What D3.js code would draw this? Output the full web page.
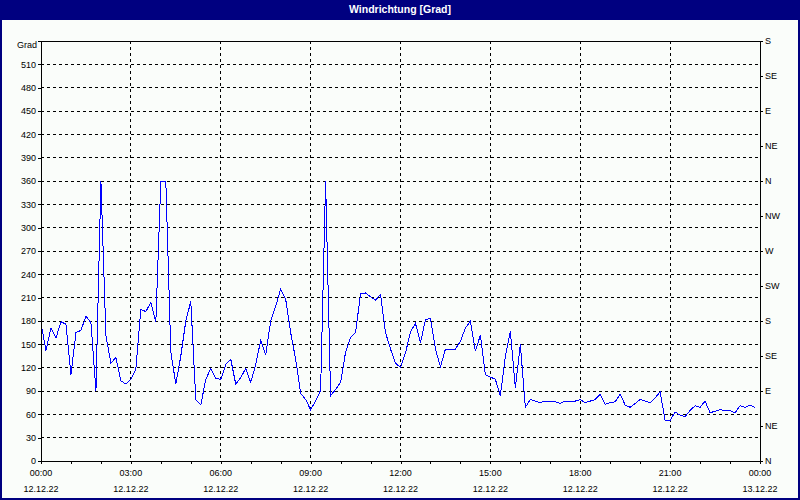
<!DOCTYPE html>
<html>
<head>
<meta charset="utf-8">
<script src="https://cdn.jsdelivr.net/npm/d3@7"></script>
<style>
  body { margin: 0; background: #fff; }
  svg { display: block; }
  text { font-family: "Liberation Sans", Arial, sans-serif; font-size: 9px; fill: #000; }
</style>
</head>
<body>
<script>
// Windrichtung chart - values every 10 minutes starting 12.12.22 00:00

var width = 800;
var height = 500;

var startTime = new Date(2022, 11, 12, 0, 0);
var endTime = new Date(2022, 11, 13, 0, 0);
var stepMinutes = 10;

// wind direction in degrees, one value per 10 min
var windDir = [
  177, 142, 171, 158, 179, 176, 111, 165, 168, 186,
  178, 90, 360, 161, 126, 133, 103, 99, 105, 118,
  195, 192, 204, 179, 360, 360, 140, 99, 135, 180,
  205, 79, 72, 105, 119, 106, 105, 124, 131, 99,
  107, 119, 101, 124, 155, 136, 180, 199, 221, 208,
  165, 131, 87, 79, 66, 77, 91, 360, 84, 92,
  101, 140, 159, 165, 215, 216, 211, 207, 214, 165,
  144, 126, 120, 139, 166, 177, 152, 182, 183, 144,
  121, 144, 144, 144, 154, 171, 180, 141, 162, 111,
  108, 105, 84, 135, 167, 94, 150, 69, 79, 77,
  75, 77, 77, 76, 74, 77, 77, 77, 79, 75,
  77, 79, 86, 73, 75, 76, 86, 72, 69, 74,
  79, 77, 75, 81, 89, 52, 52, 63, 59, 57,
  65, 71, 69, 77, 62, 64, 66, 65, 65, 62,
  71, 69, 72, 69
];

var leftTicks = d3.range(0, 511, 30);
var compassTicks = [0, 45, 90, 135, 180, 225, 270, 315, 360, 405, 450, 495, 540];
var compassLabels = ['N', 'NE', 'E', 'SE', 'S', 'SW', 'W', 'NW', 'N', 'NE', 'E', 'SE', 'S'];

var data = windDir.map(function(v, i) {
  return { t: new Date(startTime.getTime() + i * stepMinutes * 60000), v: v };
});

var plot = { left: 41, right: 760, top: 41, bottom: 461 };

var x = d3.scaleTime().domain([startTime, endTime]).range([plot.left, plot.right]);
var y = d3.scaleLinear().domain([0, 540]).range([plot.bottom, plot.top]);

var svg = d3.select('body').append('svg')
  .attr('width', width)
  .attr('height', height);

// background + frame
svg.append('rect').attr('x', 0).attr('y', 0).attr('width', width).attr('height', height)
  .attr('fill', '#fafdfa');
svg.append('rect').attr('x', 0).attr('y', 0).attr('width', width).attr('height', 20)
  .attr('fill', '#000080');
svg.append('rect').attr('x', 1).attr('y', 1).attr('width', width - 2).attr('height', height - 2)
  .attr('fill', 'none').attr('stroke', '#000080').attr('stroke-width', 2);

svg.append('text')
  .attr('x', width / 2).attr('y', 13)
  .attr('text-anchor', 'middle')
  .style('fill', '#fff').style('font-weight', 'bold').style('font-size', '10.5px')
  .text('Windrichtung [Grad]');

// dashed grid
var grid = svg.append('g').attr('shape-rendering', 'crispEdges')
  .attr('stroke', '#000').attr('stroke-dasharray', '3,3');

grid.selectAll('line.h')
  .data(leftTicks.filter(function(d) { return d > 0; }))
  .enter().append('line')
  .attr('class', 'h')
  .attr('x1', plot.left).attr('x2', plot.right)
  .attr('y1', function(d) { return y(d); })
  .attr('y2', function(d) { return y(d); });

grid.selectAll('line.v')
  .data(x.ticks(d3.timeHour.every(3)).filter(function(d) { return d > startTime && d < endTime; }))
  .enter().append('line')
  .attr('class', 'v')
  .attr('y1', plot.top).attr('y2', plot.bottom)
  .attr('x1', function(d) { return x(d); })
  .attr('x2', function(d) { return x(d); });

// the wind line
var line = d3.line()
  .x(function(d) { return x(d.t); })
  .y(function(d) { return y(d.v); });

svg.append('path')
  .datum(data)
  .attr('d', line)
  .attr('fill', 'none')
  .attr('stroke', '#0000ff')
  .attr('stroke-width', 1)
  .attr('shape-rendering', 'crispEdges');

// axes
var leftAxis = d3.axisLeft(y).tickValues(leftTicks).tickSize(3).tickPadding(2);
var rightAxis = d3.axisRight(y).tickValues(compassTicks).tickSize(3).tickPadding(2)
  .tickFormat(function(d, i) { return compassLabels[i]; });
var bottomAxis = d3.axisBottom(x).ticks(d3.timeHour.every(1)).tickSize(3)
  .tickFormat(function() { return ''; });

var gl = svg.append('g').attr('transform', 'translate(' + plot.left + ',0)').call(leftAxis);
var gr = svg.append('g').attr('transform', 'translate(' + plot.right + ',0)').call(rightAxis);
var gb = svg.append('g').attr('transform', 'translate(0,' + plot.bottom + ')').call(bottomAxis);

[gl, gr, gb].forEach(function(g) {
  g.attr('shape-rendering', 'crispEdges');
  g.selectAll('.domain').attr('stroke', '#000');
  g.selectAll('line').attr('stroke', '#000');
  g.selectAll('text').style('font-family', '"Liberation Sans", Arial, sans-serif').style('font-size', '9px');
});
gb.selectAll('.domain').remove();

// plot border
svg.append('rect')
  .attr('x', plot.left).attr('y', plot.top)
  .attr('width', plot.right - plot.left).attr('height', plot.bottom - plot.top)
  .attr('fill', 'none').attr('stroke', '#000').attr('shape-rendering', 'crispEdges');

svg.append('text').attr('x', 37).attr('y', 48).attr('text-anchor', 'end').text('Grad');

// time / date labels
var timeFmt = d3.timeFormat('%H:%M');
var dateFmt = d3.timeFormat('%d.%m.%y');
var labelTicks = x.ticks(d3.timeHour.every(3));

var lab = svg.append('g').selectAll('g')
  .data(labelTicks)
  .enter().append('g')
  .attr('transform', function(d) { return 'translate(' + x(d) + ',0)'; });

lab.append('text').attr('y', 476).attr('text-anchor', 'middle').text(function(d) { return timeFmt(d); });
lab.append('text').attr('y', 492).attr('text-anchor', 'middle').text(function(d) { return dateFmt(d); });
</script>
</body>
</html>
